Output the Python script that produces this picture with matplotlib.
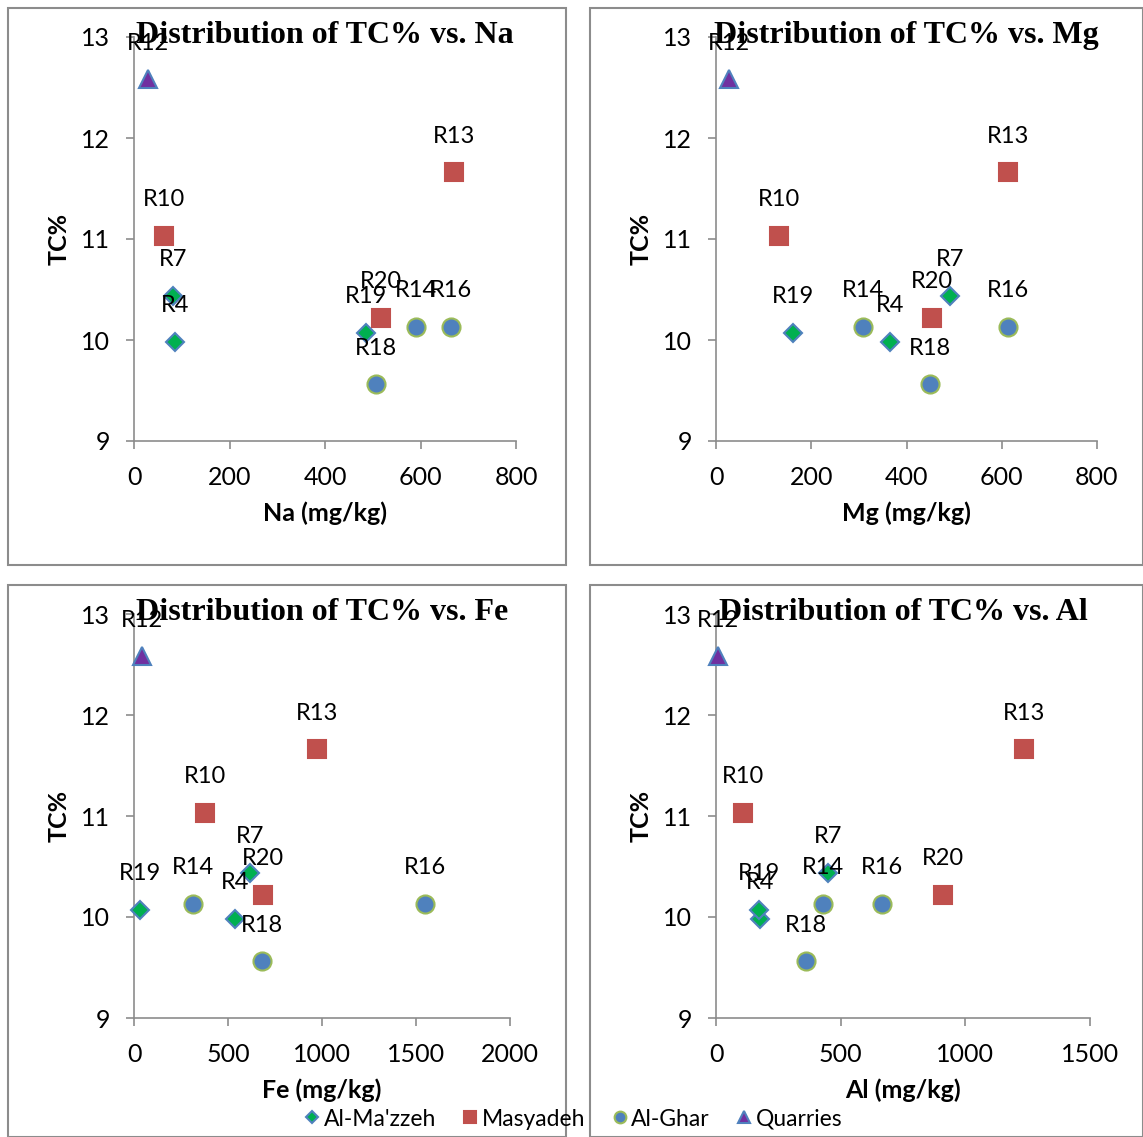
import numpy as np
import matplotlib.pyplot as plt
from matplotlib.patches import Rectangle

# sample names and TC% per group
mazzeh_names = ['R7', 'R4', 'R19']
mazzeh_tc = [10.44, 9.98, 10.07]
masyadeh_names = ['R10', 'R13', 'R20']
masyadeh_tc = [11.03, 11.66, 10.22]
ghar_names = ['R14', 'R16', 'R18']
ghar_tc = [10.13, 10.13, 9.56]
quarry_names = ['R12']
quarry_tc = [12.58]

# element concentrations (mg/kg), same order as names
na_mazzeh = [82, 86, 486]
na_masyadeh = [63, 670, 517]
na_ghar = [591, 664, 507]
na_quarry = [29]

mg_mazzeh = [491, 365, 162]
mg_masyadeh = [132, 613, 453]
mg_ghar = [309, 613, 449]
mg_quarry = [27]

fe_mazzeh = [617, 537, 32]
fe_masyadeh = [378, 973, 686]
fe_ghar = [314, 1548, 681]
fe_quarry = [43]

al_mazzeh = [449, 176, 172]
al_masyadeh = [108, 1235, 910]
al_ghar = [429, 666, 361]
al_quarry = [8]

plt.rcParams['font.family'] = ['Lato', 'DejaVu Sans']

W, H = 1143, 1137
fig = plt.figure(figsize=(W / 100, H / 100), dpi=100)

def fx(px):
    return px / W

def fy(py):
    return 1 - py / H

# panel frames
for (x0, y0, x1, y1) in [(8, 8, 566, 565), (590, 8, 1143, 565), (8, 585, 566, 1137), (590, 585, 1143, 1137)]:
    fig.add_artist(Rectangle((fx(x0), fy(y1)), fx(x1 - x0), (y1 - y0) / H,
                             transform=fig.transFigure, fill=False, edgecolor='#8c8c8c', lw=1.5))

panels = [
    ('Na', (134, 516, 37, 441), 800, 200, na_mazzeh, na_masyadeh, na_ghar, na_quarry),
    ('Mg', (716, 1097, 37, 441), 800, 200, mg_mazzeh, mg_masyadeh, mg_ghar, mg_quarry),
    ('Fe', (134, 510, 614, 1018), 2000, 500, fe_mazzeh, fe_masyadeh, fe_ghar, fe_quarry),
    ('Al', (716, 1090, 614, 1018), 1500, 500, al_mazzeh, al_masyadeh, al_ghar, al_quarry),
]

styles = [
    ('Al-Ma\'zzeh', 'D', 9.5, '#00B050', '#4F81BD'),
    ('Masyadeh', 's', 13, '#C0504D', '#C0504D'),
    ('Al-Ghar', 'o', 13, '#4F81BD', '#9BBB59'),
    ('Quarries', '^', 13, '#7030A0', '#4F81BD'),
]
names = [mazzeh_names, masyadeh_names, ghar_names, quarry_names]
tcs = [mazzeh_tc, masyadeh_tc, ghar_tc, quarry_tc]

for el, (l, r, t, b), xmax, xstep, *xs in panels:
    ax = fig.add_axes([fx(l), fy(b), fx(r - l), (b - t) / H])
    for (lab, mk, ms, fc, ec), xv, yv, nm in zip(styles, xs, tcs, names):
        ax.plot(xv, yv, linestyle='none', marker=mk, markersize=ms,
                markerfacecolor=fc, markeredgecolor=ec, markeredgewidth=1.5,
                label=lab, clip_on=False, zorder=3)
        for xi, yi, n in zip(xv, yv, nm):
            ax.annotate(n, (xi, yi), xytext=(0, 26), textcoords='offset points',
                        ha='center', va='center', fontsize=17, zorder=4)
    ax.set_xlim(0, xmax)
    ax.set_ylim(9, 13)
    ax.set_xticks(np.arange(0, xmax + 1, xstep))
    ax.set_yticks([9, 10, 11, 12, 13])
    for s in ['top', 'right']:
        ax.spines[s].set_visible(False)
    for s in ['left', 'bottom']:
        ax.spines[s].set_color('#8c8c8c')
        ax.spines[s].set_linewidth(1.2)
    ax.tick_params(colors='#8c8c8c', labelcolor='black', labelsize=18, length=6, width=1.2, pad=12)
    ax.tick_params(axis='y', pad=11)
    ax.set_xlabel(el + ' (mg/kg)', fontsize=18, fontweight='bold', labelpad=9)
    ax.set_ylabel('TC%', fontsize=18, fontweight='bold', labelpad=8)
    ax.text(0.5, 1.004, 'Distribution of TC% vs. ' + el, transform=ax.transAxes,
            ha='center', va='center', fontsize=23, fontweight='bold',
            family='Liberation Serif', zorder=5)
    handles, labels = ax.get_legend_handles_labels()

fig.legend(handles, labels, loc='center', bbox_to_anchor=(0.5, fy(1119)), ncol=4,
           frameon=False, fontsize=16.5, handletextpad=0.0, columnspacing=1.0,
           markerscale=0.65, handlelength=1.0)

fig.savefig('out.png', dpi=100, facecolor='white')
